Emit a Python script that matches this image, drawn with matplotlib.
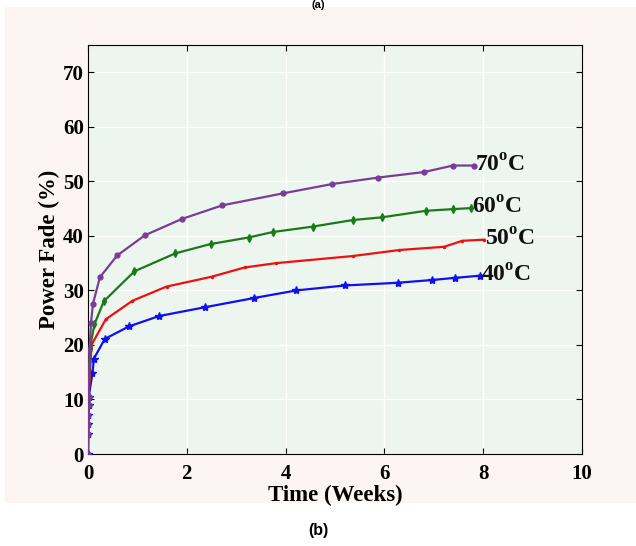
import matplotlib
matplotlib.use('Agg')
import matplotlib.pyplot as plt
from matplotlib.patches import Rectangle

plt.rcParams['font.family'] = ['Liberation Serif', 'DejaVu Serif']
plt.rcParams['mathtext.fontset'] = 'custom'
plt.rcParams['mathtext.rm'] = 'Liberation Serif:bold'
plt.rcParams['mathtext.bf'] = 'Liberation Serif:bold'

# shared early points near t = 0
early_t = [0, 0.003, 0.006, 0.009, 0.012, 0.015]
early_y = [0, 3.6, 5.5, 7.1, 9.0, 10.5]

t_70 = early_t + [0.03, 0.06, 0.10, 0.24, 0.59, 1.15, 1.90, 2.72, 3.95, 4.94, 5.88, 6.80, 7.39, 7.82]
pf_70 = early_y + [19.0, 24.0, 27.5, 32.4, 36.4, 40.1, 43.1, 45.6, 47.8, 49.5, 50.7, 51.7, 52.9, 52.9]

t_60 = early_t + [0.04, 0.13, 0.32, 0.94, 1.77, 2.48, 3.25, 3.74, 4.55, 5.36, 5.95, 6.84, 7.38, 7.76]
pf_60 = early_y + [19.5, 23.8, 28.0, 33.5, 36.8, 38.5, 39.7, 40.7, 41.7, 42.9, 43.4, 44.6, 44.9, 45.1]

t_50 = early_t + [0.07, 0.36, 0.90, 1.59, 2.50, 3.17, 3.81, 5.36, 6.30, 7.21, 7.58, 8.02]
pf_50 = early_y + [20.0, 24.7, 28.1, 30.7, 32.5, 34.2, 35.0, 36.3, 37.4, 38.0, 39.1, 39.3]

t_40 = early_t + [0.09, 0.12, 0.34, 0.83, 1.44, 2.36, 3.36, 4.22, 5.20, 6.27, 6.96, 7.43, 7.94]
pf_40 = early_y + [14.8, 17.5, 21.1, 23.4, 25.3, 26.9, 28.6, 30.0, 30.9, 31.4, 31.9, 32.3, 32.7]

series = [
    (t_40, pf_40, '40', '#1010ee', '*', 6),
    (t_50, pf_50, '50', '#ee1010', '.', 3),
    (t_60, pf_60, '60', '#1a7a1a', 'd', 4),
    (t_70, pf_70, '70', '#7a3c96', 'o', 3.5),
]

fig = plt.figure(figsize=(6.36, 5.46), dpi=100)

# pinkish panel behind the plot
bg = fig.add_axes([0, 0, 1, 1], zorder=-1)
bg.axis('off')
bg.add_patch(Rectangle((5 / 636, 1 - 503 / 546), 631 / 636, 496 / 546,
                       transform=fig.transFigure, facecolor='#fcf5f3',
                       edgecolor='none'))

ax = fig.add_axes([88 / 636, 1 - 454 / 546, 494 / 636, 409 / 546], zorder=1)
ax.set_facecolor('#edf6ee')

for t, pf, lab, col, mk, ms in series:
    ax.plot(t, pf, color=col, marker=mk, markersize=ms, linewidth=1.6, zorder=3)
    ax.text(t[-1] + 0.02, pf[-1], lab + r'$^{\mathbf{o}}$C', fontsize=17,
            fontweight='bold', ha='left', va='center', color='#111111')

ax.set_xlim(0, 10)
ax.set_ylim(0, 75)
ax.set_xticks(range(0, 11, 2))
ax.set_yticks(range(0, 71, 10))
ax.grid(True, color='white', linewidth=1.0)
ax.tick_params(direction='in', top=True, right=True, length=4, labelsize=15, pad=3)
ax.tick_params(axis='x', pad=7)
for lbl in ax.get_xticklabels() + ax.get_yticklabels():
    lbl.set_fontweight('bold')
ax.set_xlabel('Time (Weeks)', fontsize=16.5, fontweight='bold', labelpad=1)
ax.set_ylabel('Power Fade (%)', fontsize=16.5, fontweight='bold', labelpad=2)

fig.text(0.5, 1 - 530 / 546, '(b)', ha='center', va='center', fontsize=11.5,
         fontweight='bold', family='Liberation Sans')
fig.text(0.5, 1.0, '(a)', ha='center', va='top', fontsize=8,
         fontweight='bold', family='Liberation Sans')

fig.savefig('out.png', dpi=100)
